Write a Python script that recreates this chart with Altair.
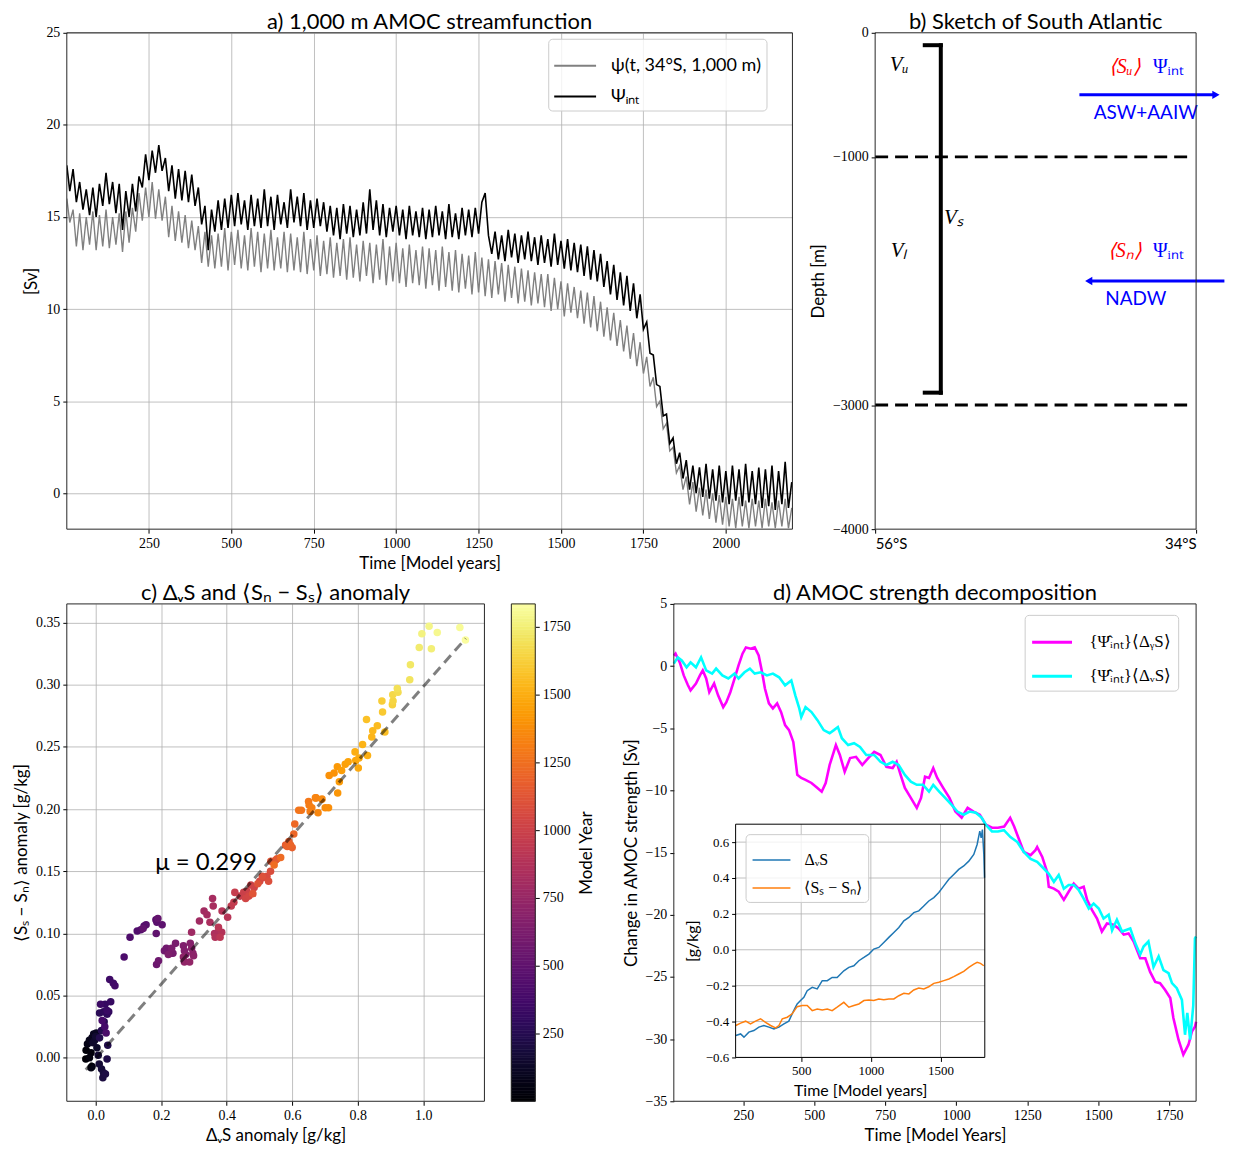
import altair as alt
import pandas as pd

SANS = "Lato"
SERIF = "Liberation Serif"
GRID = "#b0b0b0"
FRAME = "#262626"
BLUE = "#0000ff"
RED = "#ff0000"
LEGEND_FILL = "rgba(255,255,255,0.8)"

# ---------------- a) 1,000 m AMOC streamfunction ----------------
A_YEARS = [1] + list(range(10, 2201, 10))
A_BLACK = [
    17.8, 16.4, 17.6, 15.8, 16.9, 15.4, 16.5, 15.1, 16.6, 15.0,
    16.8, 15.6, 17.4, 15.7, 16.9, 15.2, 16.8, 14.3, 16.4, 15.0,
    16.8, 15.3, 17.2, 16.6, 18.4, 17.0, 18.6, 17.4, 18.9, 17.5,
    18.2, 16.4, 17.8, 16.0, 17.6, 15.9, 17.5, 15.8, 17.3, 15.6,
    16.6, 14.6, 15.6, 13.2, 15.4, 14.2, 15.9, 14.3, 16.0, 14.4,
    16.2, 14.5, 16.3, 14.6, 15.9, 14.3, 16.2, 14.5, 16.0, 14.4,
    16.5, 14.5, 16.1, 14.3, 16.2, 14.6, 15.8, 14.4, 16.5, 14.7,
    16.1, 14.5, 16.3, 14.3, 15.9, 14.4, 16.0, 14.5, 15.8, 14.2,
    15.6, 14.0, 15.5, 13.8, 15.7, 14.1, 15.6, 13.9, 15.4, 14.0,
    15.8, 14.1, 16.5, 14.3, 15.9, 14.0, 15.7, 13.9, 15.5, 14.2,
    15.6, 14.0, 15.4, 13.8, 15.6, 14.0, 15.3, 13.9, 15.5, 13.8,
    15.4, 13.9, 15.6, 14.0, 15.3, 13.8, 15.7, 13.9, 15.2, 13.8,
    15.5, 14.0, 15.4, 13.9, 15.5, 14.1, 15.8, 16.3, 14.0, 13.0,
    14.2, 12.7, 14.0, 12.6, 14.3, 12.8, 14.1, 12.5, 14.0, 12.7,
    14.2, 12.6, 13.9, 12.4, 14.0, 12.5, 13.8, 12.3, 14.1, 12.4,
    13.7, 12.2, 13.8, 12.1, 13.6, 12.0, 13.5, 11.8, 13.4, 11.6,
    13.2, 11.5, 13.0, 11.2, 12.6, 10.8, 12.4, 10.5, 12.0, 10.2,
    11.8, 9.9, 11.4, 9.5, 10.8, 8.9, 9.3, 7.6, 7.5, 5.9,
    5.8, 4.2, 4.3, 2.7, 3.0, 1.6, 2.2, 0.8, 1.8, 0.2,
    1.5, 0.0, 1.4, -0.2, 1.6, -0.3, 1.3, -0.4, 1.5, -0.5,
    1.2, -0.6, 1.5, -0.4, 1.3, -0.7, 1.6, -0.5, 1.2, -0.6,
    1.4, -0.8, 1.3, -0.7, 1.5, -0.9, 1.2, -0.6, 1.7, -0.8,
    0.6]
A_GRAY = [
    16.0, 14.7, 15.4, 13.4, 15.2, 13.2, 15.0, 13.5, 15.3, 13.2,
    15.1, 13.4, 15.4, 13.3, 15.0, 13.5, 15.2, 13.1, 15.3, 13.6,
    15.5, 14.2, 16.3, 14.8, 16.6, 15.0, 16.9, 14.9, 16.5, 14.8,
    16.1, 13.9, 15.6, 13.7, 15.3, 13.6, 15.1, 13.3, 14.8, 13.2,
    14.5, 12.5, 14.2, 12.3, 14.0, 12.2, 14.1, 12.3, 14.4, 12.1,
    14.2, 12.4, 14.3, 12.2, 14.0, 12.1, 14.4, 12.3, 14.2, 12.0,
    14.1, 12.2, 14.3, 12.1, 13.9, 12.2, 14.2, 12.0, 14.1, 12.1,
    13.9, 12.0, 14.2, 11.9, 13.8, 12.1, 14.0, 11.8, 13.7, 11.9,
    13.9, 11.7, 13.6, 11.8, 13.8, 11.6, 13.9, 11.7, 13.5, 11.5,
    13.7, 11.8, 13.6, 11.4, 13.5, 11.6, 13.8, 11.3, 13.4, 11.5,
    13.6, 11.4, 13.3, 11.2, 13.5, 11.4, 13.2, 11.3, 13.4, 11.1,
    13.3, 11.3, 13.2, 11.0, 13.4, 11.2, 13.1, 11.0, 13.2, 10.9,
    13.0, 11.1, 12.9, 10.8, 13.1, 10.9, 12.8, 10.7, 12.7, 10.6,
    12.6, 10.8, 12.5, 10.4, 12.4, 10.6, 12.3, 10.3, 12.2, 10.4,
    12.1, 10.2, 12.0, 10.3, 11.9, 10.1, 11.9, 9.9, 11.7, 10.0,
    11.5, 9.6, 11.4, 9.8, 11.2, 9.5, 11.0, 9.2, 10.9, 9.0,
    10.7, 8.8, 10.4, 8.5, 10.1, 8.3, 9.8, 8.0, 9.4, 7.7,
    9.1, 7.3, 8.7, 6.9, 8.2, 6.5, 7.4, 5.8, 6.3, 4.7,
    5.0, 3.5, 3.8, 2.3, 2.5, 1.1, 1.5, 0.2, 0.9, -0.6,
    0.6, -1.0, 0.3, -1.2, 0.2, -1.4, 0.0, -1.6, -0.1, -1.7,
    -0.2, -1.8, -0.3, -1.9, -0.2, -1.8, -0.4, -1.9, -0.3, -1.8,
    -0.4, -1.9, -0.3, -1.8, -0.5, -1.9, -0.4, -1.8, -0.3, -1.9,
    -0.8]
A_LABELS = ["ψ(t, 34°S, 1,000 m)", "Ψᵢₙₜ"]
A_COLORS = ["#808080", "#000000"]
A_XLIM = [1, 2202]
A_YLIM = [-1.95, 25]
A_XTICKS = [250, 500, 750, 1000, 1250, 1500, 1750, 2000]
A_YTICKS = [0, 5, 10, 15, 20, 25]
A_TITLE = "a) 1,000 m AMOC streamfunction"

# ---------------- b) sketch ----------------
B_XLIM = [-56, -34]
B_YLIM = [-4000, 0]
B_XTICKS = [-56, -34]
B_YTICKS = [0, -1000, -3000, -4000]
B_LAYERS = [-1000, -3000]
B_LAYER_X = [-56, -34.23]
B_BRACKET = [(-51.5, -51.5, -100, -2900), (-52.6, -51.5, -100, -100), (-52.6, -51.5, -2900, -2900)]
B_ARROWS = [(-42.0, -32.64, -500), (-32.06, -41.36, -2000)]
B_HEADS = ["triangle-right", "triangle-left"]
B_VOL_TEXT = ["Vᵤ", "Vₛ", "Vₗ"]
B_VOL_X = [-54.36, -50.6, -54.36]
B_VOL_Y = [-258, -1489, -1760]
B_SAL_TEXT = ["⟨Sᵤ⟩", "⟨Sₙ⟩"]
B_SAL_X = [-38.9, -38.9]
B_SAL_Y = [-273, -1760]
B_PSI_TEXT = ["Ψᵢₙₜ", "Ψᵢₙₜ"]
B_PSI_X = [-35.9, -35.9]
B_PSI_Y = [-273, -1760]
B_WATER_TEXT = ["ASW+AAIW", "NADW"]
B_WATER_X = [-37.45, -38.14]
B_WATER_Y = [-650, -2147]
B_TITLE = "b) Sketch of South Atlantic"

# ---------------- c) scatter ----------------
C_XLIM = [-0.088, 1.187]
C_YLIM = [-0.035, 0.365]
C_XTICKS = [0.0, 0.2, 0.4, 0.6, 0.8, 1.0]
C_YTICKS = [0.0, 0.05, 0.10, 0.15, 0.20, 0.25, 0.30, 0.35]
C_YEAR_LIM = [0, 1834]
C_POINTS = [
    (-0.030, -0.001, 10), (-0.029, 0.006, 20), (-0.014, 0.004, 30), (-0.019, 0.000, 40),
    (-0.011, -0.007, 50), (-0.014, -0.008, 60), (-0.025, 0.011, 70), (-0.019, 0.014, 80),
    (-0.011, 0.016, 90), (-0.006, 0.019, 100), (0.002, 0.020, 110), (-0.003, 0.014, 120),
    (0.004, 0.008, 130), (-0.008, 0.012, 140), (0.000, 0.017, 150),
    (0.008, 0.002, 160), (0.011, -0.005, 170), (0.018, -0.009, 180), (0.024, -0.012, 190),
    (0.022, -0.016, 200), (0.030, -0.013, 210), (0.035, -0.001, 220), (0.037, 0.010, 230),
    (0.012, 0.016, 240), (0.018, 0.022, 250), (0.026, 0.029, 260), (0.012, 0.036, 270),
    (0.024, 0.037, 280), (0.035, 0.035, 290), (0.040, 0.037, 300), (0.029, 0.043, 310),
    (0.046, 0.045, 320), (0.035, 0.038, 330), (0.015, 0.043, 340), (0.043, 0.063, 350),
    (0.054, 0.060, 360), (0.059, 0.058, 370), (0.028, 0.025, 380), (0.020, 0.030, 390),
    (0.032, 0.020, 400),
    (0.087, 0.081, 410), (0.105, 0.097, 420), (0.127, 0.102, 430), (0.138, 0.103, 440),
    (0.148, 0.106, 450), (0.154, 0.107, 460), (0.184, 0.111, 470), (0.187, 0.109, 480),
    (0.203, 0.107, 490), (0.185, 0.100, 500), (0.145, 0.104, 510), (0.190, 0.112, 520),
    (0.186, 0.075, 550), (0.192, 0.078, 560), (0.210, 0.086, 570), (0.216, 0.088, 580),
    (0.230, 0.084, 590), (0.236, 0.084, 600), (0.244, 0.092, 610), (0.232, 0.088, 620),
    (0.222, 0.083, 630), (0.268, 0.090, 640), (0.271, 0.086, 650), (0.275, 0.083, 660),
    (0.289, 0.092, 670), (0.293, 0.088, 680), (0.297, 0.084, 690), (0.299, 0.082, 700),
    (0.268, 0.081, 710), (0.271, 0.077, 720), (0.287, 0.077, 730),
    (0.293, 0.101, 780), (0.317, 0.110, 790), (0.331, 0.118, 800), (0.340, 0.115, 810),
    (0.357, 0.128, 820), (0.359, 0.122, 830), (0.349, 0.109, 840), (0.363, 0.100, 850),
    (0.376, 0.102, 860), (0.365, 0.097, 870), (0.385, 0.101, 880), (0.386, 0.118, 890),
    (0.403, 0.113, 900), (0.375, 0.105, 910), (0.380, 0.097, 920),
    (0.414, 0.122, 950), (0.422, 0.125, 960), (0.425, 0.133, 970), (0.441, 0.130, 980),
    (0.452, 0.133, 990), (0.462, 0.134, 1000), (0.474, 0.139, 1010), (0.484, 0.137, 1020),
    (0.458, 0.128, 1030), (0.468, 0.130, 1040), (0.501, 0.142, 1050), (0.511, 0.145, 1060),
    (0.523, 0.146, 1070), (0.534, 0.150, 1080), (0.528, 0.142, 1090), (0.509, 0.146, 1100),
    (0.495, 0.140, 1110), (0.480, 0.132, 1120),
    (0.535, 0.158, 1130), (0.550, 0.159, 1140), (0.554, 0.160, 1150), (0.580, 0.171, 1160),
    (0.590, 0.174, 1170), (0.600, 0.169, 1180), (0.585, 0.170, 1190), (0.595, 0.171, 1200),
    (0.605, 0.180, 1210), (0.608, 0.188, 1220), (0.565, 0.161, 1230), (0.545, 0.155, 1240),
    (0.620, 0.199, 1270), (0.628, 0.199, 1280), (0.650, 0.206, 1290), (0.652, 0.203, 1300),
    (0.655, 0.198, 1310), (0.660, 0.201, 1320), (0.671, 0.209, 1330), (0.673, 0.209, 1340),
    (0.679, 0.197, 1350), (0.691, 0.208, 1360), (0.701, 0.201, 1370), (0.711, 0.201, 1380),
    (0.713, 0.227, 1390), (0.728, 0.229, 1400), (0.739, 0.213, 1410), (0.738, 0.234, 1420),
    (0.744, 0.222, 1430), (0.751, 0.231, 1440),
    (0.762, 0.236, 1450), (0.771, 0.238, 1460), (0.794, 0.239, 1470), (0.802, 0.233, 1480),
    (0.804, 0.241, 1490), (0.792, 0.246, 1500), (0.830, 0.243, 1510), (0.815, 0.252, 1520),
    (0.843, 0.258, 1530), (0.846, 0.263, 1540), (0.860, 0.267, 1550), (0.883, 0.262, 1560),
    (0.827, 0.272, 1570),
    (0.876, 0.278, 1600), (0.874, 0.287, 1615), (0.906, 0.284, 1630), (0.908, 0.287, 1645),
    (0.907, 0.292, 1660), (0.923, 0.294, 1675), (0.921, 0.297, 1690), (0.959, 0.304, 1705),
    (0.961, 0.316, 1720), (0.988, 0.330, 1735), (1.025, 0.329, 1750), (0.996, 0.341, 1765),
    (1.018, 0.347, 1780), (1.043, 0.342, 1795), (1.112, 0.346, 1810), (1.129, 0.336, 1825),
]
C_FIT_SLOPE = 0.299
C_FIT_INTERCEPT = -0.0006
C_FIT_X = [-0.03, 1.13]
C_MU_TEXT = ["μ = 0.299"]
C_MU_POS = [(0.337, 0.157)]
C_TITLE = "c) ΔᵥS and ⟨Sₙ − Sₛ⟩ anomaly"
CB_EDGES = list(range(0, 1831, 10)) + [1834]
CB_TICKS = [250, 500, 750, 1000, 1250, 1500, 1750]

# ---------------- d) decomposition ----------------
D_XLIM = [5, 1845]
D_YLIM = [-35, 5]
D_XTICKS = [250, 500, 750, 1000, 1250, 1500, 1750]
D_YTICKS = [-35, -30, -25, -20, -15, -10, -5, 0, 5]
D_LABELS = ["{Ψ\u0302ᵢₙₜ}⟨ΔᵧS⟩", "{Ψ\u0302ᵢₙₜ}⟨ΔᵥS⟩"]
D_COLORS = ["#ff00ff", "#00ffff"]
D_TITLE = "d) AMOC strength decomposition"
D_MAGENTA = [
    (5, 0.85), (11, 1.0), (26, 0.3), (40, -0.75), (54, -1.5), (64, -1.95), (83, -1.4), (97, -0.75),
    (107, -0.35), (119, -1.0), (130, -2.1), (147, -1.4), (161, -2.35), (179, -3.3), (190, -2.9),
    (204, -2.1), (219, -1.0), (233, 0.05), (247, 1.0), (259, 1.5), (276, 1.4), (290, 1.5),
    (304, 0.85), (316, -0.5), (326, -1.8), (340, -3.0), (354, -3.4), (369, -3.0), (383, -3.7),
    (397, -4.75), (411, -5.15), (426, -6.1), (440, -8.75), (454, -9.0), (469, -9.15), (490, -9.4),
    (511, -9.8), (526, -10.1), (540, -9.4), (554, -7.95), (576, -6.35), (590, -7.15), (607, -8.5),
    (626, -7.4), (647, -7.3), (669, -7.95), (690, -7.4), (711, -6.9), (733, -7.15), (754, -8.1),
    (776, -8.2), (790, -7.7), (804, -8.75), (819, -9.8), (840, -10.6), (861, -11.4), (876, -10.6),
    (890, -8.9), (904, -9.0), (919, -8.2), (933, -9.0), (954, -9.8), (976, -10.6), (997, -11.7),
    (1019, -12.2), (1040, -11.4), (1061, -11.7), (1083, -11.95), (1104, -12.75), (1126, -13.0),
    (1147, -13.0), (1169, -12.9), (1190, -12.2), (1204, -12.9), (1219, -13.8), (1238, -14.95),
    (1262, -15.2), (1279, -14.8), (1285, -14.55), (1303, -15.35), (1320, -16.55), (1326, -17.75),
    (1344, -17.9), (1361, -18.15), (1379, -18.8), (1396, -18.15), (1414, -17.5), (1431, -17.9),
    (1449, -17.75), (1461, -18.8), (1478, -19.6), (1496, -20.3), (1513, -21.35), (1531, -20.7),
    (1554, -20.8), (1572, -21.1), (1590, -21.6), (1607, -21.5), (1625, -22.15), (1648, -23.5),
    (1666, -23.5), (1683, -24.6), (1701, -25.4), (1718, -25.5), (1736, -26.05), (1754, -26.7),
    (1765, -28.3), (1783, -30.05), (1800, -31.25), (1818, -30.45), (1830, -29.4), (1841, -29.0),
    (1845, -28.6),
]
D_CYAN = [
    (5, 0.2), (19, 0.7), (33, 0.45), (50, -0.1), (64, 0.3), (83, -0.1), (101, 0.7), (119, -0.35),
    (140, -0.6), (154, -0.2), (176, -0.75), (197, -1.0), (219, -0.6), (233, -1.0), (254, -0.5),
    (273, -0.2), (290, -0.6), (311, -0.5), (333, -0.75), (354, -0.6), (376, -0.9), (397, -1.55),
    (419, -1.15), (433, -2.35), (447, -3.4), (454, -4.1), (469, -3.3), (490, -3.7), (511, -4.35),
    (533, -5.15), (554, -5.4), (569, -5.15), (583, -4.9), (597, -5.8), (619, -6.35), (640, -6.2),
    (661, -6.5), (683, -7.15), (711, -7.15), (733, -7.7), (754, -7.95), (776, -7.7), (797, -7.95),
    (819, -8.75), (840, -9.3), (861, -9.55), (883, -9.55), (904, -10.1), (919, -9.55), (940, -10.1),
    (961, -10.6), (983, -11.15), (1004, -11.7), (1026, -11.95), (1047, -11.7), (1069, -11.8),
    (1090, -12.2), (1104, -12.75), (1126, -13.3), (1147, -13.3), (1168, -13.2), (1191, -13.75),
    (1215, -14.15), (1238, -14.95), (1262, -15.5), (1285, -15.75), (1309, -16.3), (1326, -16.7),
    (1344, -17.35), (1361, -16.8), (1379, -17.9), (1396, -17.6), (1414, -17.6), (1431, -18.0),
    (1449, -18.7), (1467, -19.5), (1484, -19.1), (1502, -19.5), (1519, -20.3), (1537, -20.0),
    (1549, -21.25), (1566, -20.4), (1584, -21.35), (1601, -21.2), (1613, -21.1), (1631, -22.3),
    (1648, -23.2), (1660, -22.55), (1677, -22.15), (1695, -24.2), (1713, -23.35), (1730, -24.45),
    (1748, -24.7), (1760, -25.5), (1777, -25.9), (1795, -26.85), (1806, -29.65), (1814, -27.9),
    (1824, -30.05), (1835, -27.3), (1841, -21.9), (1845, -21.75),
]
I_XLIM = [29, 1818]
I_YLIM = [-0.6, 0.7]
I_XTICKS = [500, 1000, 1500]
I_YTICKS = [-0.6, -0.4, -0.2, 0.0, 0.2, 0.4, 0.6]
I_LABELS = ["ΔᵥS", "⟨Sₛ − Sₙ⟩"]
I_COLORS = ["#1f77b4", "#ff7f0e"]
I_BLUE = [
    (30, -0.478), (65, -0.469), (89, -0.487), (124, -0.459), (160, -0.45), (196, -0.431),
    (232, -0.422), (268, -0.431), (304, -0.441), (340, -0.431), (376, -0.413), (411, -0.398),
    (435, -0.357), (459, -0.32), (471, -0.302), (495, -0.283), (519, -0.265), (543, -0.228),
    (579, -0.209), (615, -0.218), (651, -0.172), (687, -0.172), (722, -0.154), (758, -0.154),
    (806, -0.117), (842, -0.098), (878, -0.089), (914, -0.061), (950, -0.043), (986, -0.024),
    (1021, 0.004), (1057, 0.013), (1093, 0.041), (1129, 0.069), (1165, 0.096), (1201, 0.124),
    (1237, 0.161), (1273, 0.180), (1308, 0.207), (1344, 0.217), (1380, 0.244), (1416, 0.272),
    (1452, 0.291), (1488, 0.319), (1524, 0.356), (1560, 0.393), (1595, 0.42), (1631, 0.448),
    (1667, 0.467), (1703, 0.494), (1739, 0.531), (1763, 0.587), (1782, 0.661), (1792, 0.624),
    (1801, 0.670), (1811, 0.531), (1816, 0.402),
]
I_ORANGE = [
    (30, -0.422), (65, -0.409), (101, -0.398), (136, -0.413), (172, -0.398), (208, -0.385),
    (244, -0.404), (280, -0.422), (316, -0.435), (340, -0.422), (364, -0.385), (400, -0.376),
    (435, -0.357), (471, -0.317), (507, -0.311), (543, -0.311), (579, -0.339), (615, -0.33),
    (651, -0.335), (687, -0.33), (722, -0.339), (758, -0.32), (806, -0.293), (842, -0.32),
    (878, -0.311), (914, -0.302), (950, -0.283), (986, -0.28), (1021, -0.283), (1057, -0.274),
    (1093, -0.278), (1129, -0.274), (1165, -0.274), (1201, -0.256), (1237, -0.243), (1273, -0.246),
    (1308, -0.224), (1344, -0.213), (1380, -0.218), (1416, -0.206), (1452, -0.187), (1488, -0.181),
    (1524, -0.172), (1560, -0.163), (1595, -0.15), (1631, -0.135), (1667, -0.12), (1703, -0.098),
    (1739, -0.080), (1763, -0.070), (1787, -0.076), (1811, -0.089),
]

# ---------------- layout (pixel ranges inside each row) ----------------
W_ROW = 1133
H_TOP = 498
H_BOT = 499
ROW_GAP = 75
A_RANGE = [0, 728]
B_RANGE = [811, 1133]
C_RANGE = [0, 419]
CB_RANGE = [446, 470]
D_RANGE = [609, 1133]
INSET_PX = [671, 921]
INSET_PY = [455, 221]
TITLE_SIZE = 22


def frame(df, x, x2, y, y2, color=FRAME, width=1.0):
    return alt.Chart(df).mark_rect(fillOpacity=0, stroke=color, strokeWidth=width).encode(
        x=x, x2=x2, y=y, y2=y2)


def title_mark(xf, yf, xv, yv, text, x, y):
    df = pd.DataFrame({xf: [xv], yf: [yv], "label": [text]})
    return alt.Chart(df).mark_text(font=SANS, fontSize=TITLE_SIZE, align="center",
                                   baseline="alphabetic", dy=-4, color="black").encode(
        x=x, y=y, text="label:N")


def legend(**kw):
    base = dict(title=None, fillColor=LEGEND_FILL, strokeColor="#cccccc", cornerRadius=4,
                symbolType="stroke", labelLimit=400, orient="none")
    base.update(kw)
    return alt.Legend(**base)


# ================= ROW 1 : panels a and b =================
a_x = alt.X("year:Q", scale=alt.Scale(domain=A_XLIM, range=A_RANGE, nice=False, zero=False),
            axis=alt.Axis(orient="bottom", values=A_XTICKS, format="d", title="Time [Model years]"))
a_y = alt.Y("value:Q", scale=alt.Scale(domain=A_YLIM, nice=False, zero=False),
            axis=alt.Axis(orient="left", values=A_YTICKS, format="d", title="[Sv]"))
a_col = alt.Color("series:N", scale=alt.Scale(domain=A_LABELS, range=A_COLORS),
                  legend=legend(legendX=483, legendY=6, padding=5, labelFont=SANS,
                                labelFontSize=18, symbolSize=1764, symbolStrokeWidth=2,
                                labelOffset=14, rowPadding=-20))
df_a_gray = pd.DataFrame({"year": A_YEARS, "value": A_GRAY, "series": A_LABELS[0]})
df_a_black = pd.DataFrame({"year": A_YEARS, "value": A_BLACK, "series": A_LABELS[1]})
df_a_frame = pd.DataFrame({"year": [A_XLIM[0]], "year2": [A_XLIM[1]],
                           "value": [A_YLIM[0]], "value2": [A_YLIM[1]]})
panel_a = alt.layer(
    alt.Chart(df_a_gray).mark_line(strokeWidth=1.4, clip=True).encode(x=a_x, y=a_y, color=a_col),
    alt.Chart(df_a_black).mark_line(strokeWidth=1.6, clip=True).encode(x=a_x, y=a_y, color=a_col),
    frame(df_a_frame, a_x, "year2", a_y, "value2"),
    title_mark("year", "value", sum(A_XLIM) / 2, A_YLIM[1], A_TITLE, a_x, a_y),
)

b_x = alt.X("lon:Q", scale=alt.Scale(domain=B_XLIM, range=B_RANGE, nice=False, zero=False),
            axis=alt.Axis(orient="bottom", values=B_XTICKS, grid=False, title=None, labelFont=SANS,
                          labelFontSize=15, labelExpr="datum.value < -45 ? '56°S' : '34°S'"))
b_y = alt.Y("depth:Q", scale=alt.Scale(domain=B_YLIM, nice=False, zero=False),
            axis=alt.Axis(orient="left", offset=-B_RANGE[0], values=B_YTICKS, grid=False, format="d",
                          title="Depth [m]"))
df_b_layers = pd.DataFrame({"lon": [B_LAYER_X[0]] * 2, "lon2": [B_LAYER_X[1]] * 2,
                            "depth": B_LAYERS, "depth2": B_LAYERS})
df_b_bracket = pd.DataFrame(B_BRACKET, columns=["lon", "lon2", "depth", "depth2"])
df_b_arrows = pd.DataFrame([(a0, a1, yy, yy) for a0, a1, yy in B_ARROWS],
                           columns=["lon", "lon2", "depth", "depth2"])


def b_text(texts, xs, ys, color, font, size, style="normal"):
    df = pd.DataFrame({"lon": xs, "depth": ys, "label": texts})
    return alt.Chart(df).mark_text(font=font, fontSize=size, fontStyle=style, color=color,
                                   align="center", baseline="middle").encode(
        x=b_x, y=b_y, text="label:N")


b_layers = [
    alt.Chart(df_b_layers).mark_rule(color="black", strokeWidth=3, strokeDash=[13, 7]).encode(
        x=b_x, x2="lon2", y=b_y, y2="depth2"),
    alt.Chart(df_b_bracket).mark_rule(color="black", strokeWidth=4, strokeCap="square").encode(
        x=b_x, x2="lon2", y=b_y, y2="depth2"),
    alt.Chart(df_b_arrows).mark_rule(color=BLUE, strokeWidth=3).encode(
        x=b_x, x2="lon2", y=b_y, y2="depth2"),
]
for (a0, a1, yy), shape in zip(B_ARROWS, B_HEADS):
    b_layers.append(
        alt.Chart(pd.DataFrame({"lon": [a1], "depth": [yy]})).mark_point(
            shape=shape, filled=True, size=70, color=BLUE, opacity=1).encode(x=b_x, y=b_y))
b_layers += [
    b_text(B_VOL_TEXT, B_VOL_X, B_VOL_Y, "black", SERIF, 21, "italic"),
    b_text(B_SAL_TEXT, B_SAL_X, B_SAL_Y, RED, SERIF, 20, "italic"),
    b_text(B_PSI_TEXT, B_PSI_X, B_PSI_Y, BLUE, SERIF, 20),
    b_text(B_WATER_TEXT, B_WATER_X, B_WATER_Y, BLUE, SANS, 19),
    frame(pd.DataFrame({"lon": [B_XLIM[0]], "lon2": [B_XLIM[1]], "depth": [B_YLIM[0]],
                        "depth2": [B_YLIM[1]]}), b_x, "lon2", b_y, "depth2"),
    title_mark("lon", "depth", sum(B_XLIM) / 2, B_YLIM[1], B_TITLE, b_x, b_y),
]
panel_b = alt.layer(*b_layers)

row1 = alt.layer(panel_a, panel_b).resolve_scale(
    x="independent", y="independent", color="independent").properties(width=W_ROW, height=H_TOP)

# ================= ROW 2 : panels c, colorbar, d =================
c_x = alt.X("dvs:Q", scale=alt.Scale(domain=C_XLIM, range=C_RANGE, nice=False, zero=False),
            axis=alt.Axis(orient="bottom", values=C_XTICKS, format=".1f", title="ΔᵥS anomaly [g/kg]"))
c_y = alt.Y("dss:Q", scale=alt.Scale(domain=C_YLIM, nice=False, zero=False),
            axis=alt.Axis(orient="left", values=C_YTICKS, format=".2f", title="⟨Sₛ − Sₙ⟩ anomaly [g/kg]"))
inferno = alt.Scale(scheme="inferno", domain=C_YEAR_LIM)
df_c = pd.DataFrame(C_POINTS, columns=["dvs", "dss", "year"])
df_fit = pd.DataFrame({"dvs": C_FIT_X, "dss": [C_FIT_SLOPE * v + C_FIT_INTERCEPT for v in C_FIT_X]})
df_mu = pd.DataFrame({"dvs": [p[0] for p in C_MU_POS], "dss": [p[1] for p in C_MU_POS], "label": C_MU_TEXT})
panel_c = alt.layer(
    alt.Chart(df_c).mark_circle(size=57, opacity=1).encode(
        x=c_x, y=c_y, color=alt.Color("year:Q", scale=inferno, legend=None)),
    alt.Chart(df_fit).mark_line(color="black", opacity=0.5, strokeWidth=3, strokeDash=[10, 6]).encode(
        x=c_x, y=c_y),
    alt.Chart(df_mu).mark_text(font=SANS, fontSize=24, align="center", baseline="middle").encode(
        x=c_x, y=c_y, text="label:N"),
    frame(pd.DataFrame({"dvs": [C_XLIM[0]], "dvs2": [C_XLIM[1]], "dss": [C_YLIM[0]],
                        "dss2": [C_YLIM[1]]}), c_x, "dvs2", c_y, "dss2"),
    title_mark("dvs", "dss", sum(C_XLIM) / 2, C_YLIM[1], C_TITLE, c_x, c_y),
)

df_cb = pd.DataFrame({"lo": CB_EDGES[:-1], "hi": CB_EDGES[1:],
                      "mid": [(l + h) / 2 for l, h in zip(CB_EDGES[:-1], CB_EDGES[1:])],
                      "cx": 0, "cx2": 1})
cb_x = alt.X("cx:Q", scale=alt.Scale(domain=[0, 1], range=CB_RANGE, nice=False, zero=False), axis=None)
cb_y = alt.Y("lo:Q", scale=alt.Scale(domain=C_YEAR_LIM, nice=False, zero=False),
             axis=alt.Axis(orient="right", offset=CB_RANGE[1] - W_ROW, values=CB_TICKS, format="d",
                           grid=False, title="Model Year", titleAngle=270, titleBaseline="top",
                           titlePadding=8))
panel_cb = alt.layer(
    alt.Chart(df_cb).mark_rect(strokeWidth=0.6).encode(
        x=cb_x, x2="cx2", y=cb_y, y2="hi",
        color=alt.Color("mid:Q", scale=inferno, legend=None),
        stroke=alt.Stroke("mid:Q", scale=inferno, legend=None)),
    frame(pd.DataFrame({"cx": [0], "cx2": [1], "lo": [C_YEAR_LIM[0]], "hi": [C_YEAR_LIM[1]]}),
          cb_x, "cx2", cb_y, "hi"),
)

d_x = alt.X("year:Q", scale=alt.Scale(domain=D_XLIM, range=D_RANGE, nice=False, zero=False),
            axis=alt.Axis(orient="bottom", values=D_XTICKS, format="d", title="Time [Model Years]"))
d_y = alt.Y("value:Q", scale=alt.Scale(domain=D_YLIM, nice=False, zero=False),
            axis=alt.Axis(orient="left", offset=-D_RANGE[0], values=D_YTICKS, format="d",
                          title="Change in AMOC strength [Sv]"))
d_col = alt.Color("series:N", scale=alt.Scale(domain=D_LABELS, range=D_COLORS),
                  legend=legend(legendX=961, legendY=11, padding=6, labelFont=SERIF,
                                labelFontSize=17, symbolSize=1600, symbolStrokeWidth=3,
                                labelOffset=16, rowPadding=4))
df_mag = pd.DataFrame(D_MAGENTA, columns=["year", "value"]).assign(series=D_LABELS[0])
df_cy = pd.DataFrame(D_CYAN, columns=["year", "value"]).assign(series=D_LABELS[1])
panel_d = alt.layer(
    alt.Chart(df_mag).mark_line(strokeWidth=2.6).encode(x=d_x, y=d_y, color=d_col),
    alt.Chart(df_cy).mark_line(strokeWidth=2.6).encode(x=d_x, y=d_y, color=d_col),
    frame(pd.DataFrame({"year": [D_XLIM[0]], "year2": [D_XLIM[1]], "value": [D_YLIM[0]],
                        "value2": [D_YLIM[1]]}), d_x, "year2", d_y, "value2"),
    title_mark("year", "value", sum(D_XLIM) / 2, D_YLIM[1], D_TITLE, d_x, d_y),
)

i_x = alt.X("iyear:Q", scale=alt.Scale(domain=I_XLIM, range=INSET_PX, nice=False, zero=False),
            axis=alt.Axis(orient="bottom", offset=INSET_PY[0] - H_BOT, values=I_XTICKS, format="d",
                          grid=False, zindex=1, title="Time [Model years]", labelFontSize=13,
                          titleFontSize=16))
i_y = alt.Y("ivalue:Q", scale=alt.Scale(domain=I_YLIM, range=INSET_PY, nice=False, zero=False),
            axis=alt.Axis(orient="left", offset=-INSET_PX[0], values=I_YTICKS, format=".1f",
                          grid=False, zindex=1, title="[g/kg]", labelFontSize=13, titleFontSize=16))
i_col = alt.Color("iseries:N", scale=alt.Scale(domain=I_LABELS, range=I_COLORS),
                  legend=legend(legendX=INSET_PX[0] + 10, legendY=INSET_PY[1] + 10,
                                padding=6, labelFont=SERIF, labelFontSize=16, symbolSize=1444,
                                symbolStrokeWidth=1.5, labelOffset=13, rowPadding=-9))
df_ibox = pd.DataFrame({"iyear": [I_XLIM[0]], "iyear2": [I_XLIM[1]], "ivalue": [I_YLIM[0]],
                        "ivalue2": [I_YLIM[1]]})
df_igx = pd.DataFrame({"iyear": I_XTICKS, "ivalue": I_YLIM[0], "ivalue2": I_YLIM[1]})
df_igy = pd.DataFrame({"ivalue": I_YTICKS, "iyear": I_XLIM[0], "iyear2": I_XLIM[1]})
df_ib = pd.DataFrame(I_BLUE, columns=["iyear", "ivalue"]).assign(iseries=I_LABELS[0])
df_io = pd.DataFrame(I_ORANGE, columns=["iyear", "ivalue"]).assign(iseries=I_LABELS[1])
panel_inset = alt.layer(
    alt.Chart(df_ibox).mark_rect(fill="white", opacity=1).encode(x=i_x, x2="iyear2", y=i_y, y2="ivalue2"),
    alt.Chart(df_igx).mark_rule(color=GRID, strokeWidth=0.8).encode(x=i_x, y=i_y, y2="ivalue2"),
    alt.Chart(df_igy).mark_rule(color=GRID, strokeWidth=0.8).encode(y=i_y, x=i_x, x2="iyear2"),
    alt.Chart(df_ib).mark_line(strokeWidth=1.5).encode(x=i_x, y=i_y, color=i_col),
    alt.Chart(df_io).mark_line(strokeWidth=1.5).encode(x=i_x, y=i_y, color=i_col),
    frame(df_ibox, i_x, "iyear2", i_y, "ivalue2", color="#000000"),
)

row2 = alt.layer(panel_c, panel_cb, panel_d, panel_inset).resolve_scale(
    x="independent", y="independent", color="independent").properties(width=W_ROW, height=H_BOT)

chart = alt.vconcat(row1, row2, spacing=ROW_GAP, bounds="flush").resolve_scale(
    color="independent").resolve_legend(color="independent").properties(
    padding={"left": 4, "top": 0, "right": 0, "bottom": 0}
).configure_view(stroke="transparent").configure_axis(
    labelFont=SERIF, labelFontSize=14, labelColor="black", titleFont=SANS, titleFontSize=17,
    titleFontWeight="normal", titleColor="black", gridColor=GRID, gridWidth=0.8, tickColor="black",
    tickSize=4, tickWidth=1, domain=False, labelPadding=3, titlePadding=5,
)

chart.save("out.html", embed_options={"renderer": "svg", "actions": False})
